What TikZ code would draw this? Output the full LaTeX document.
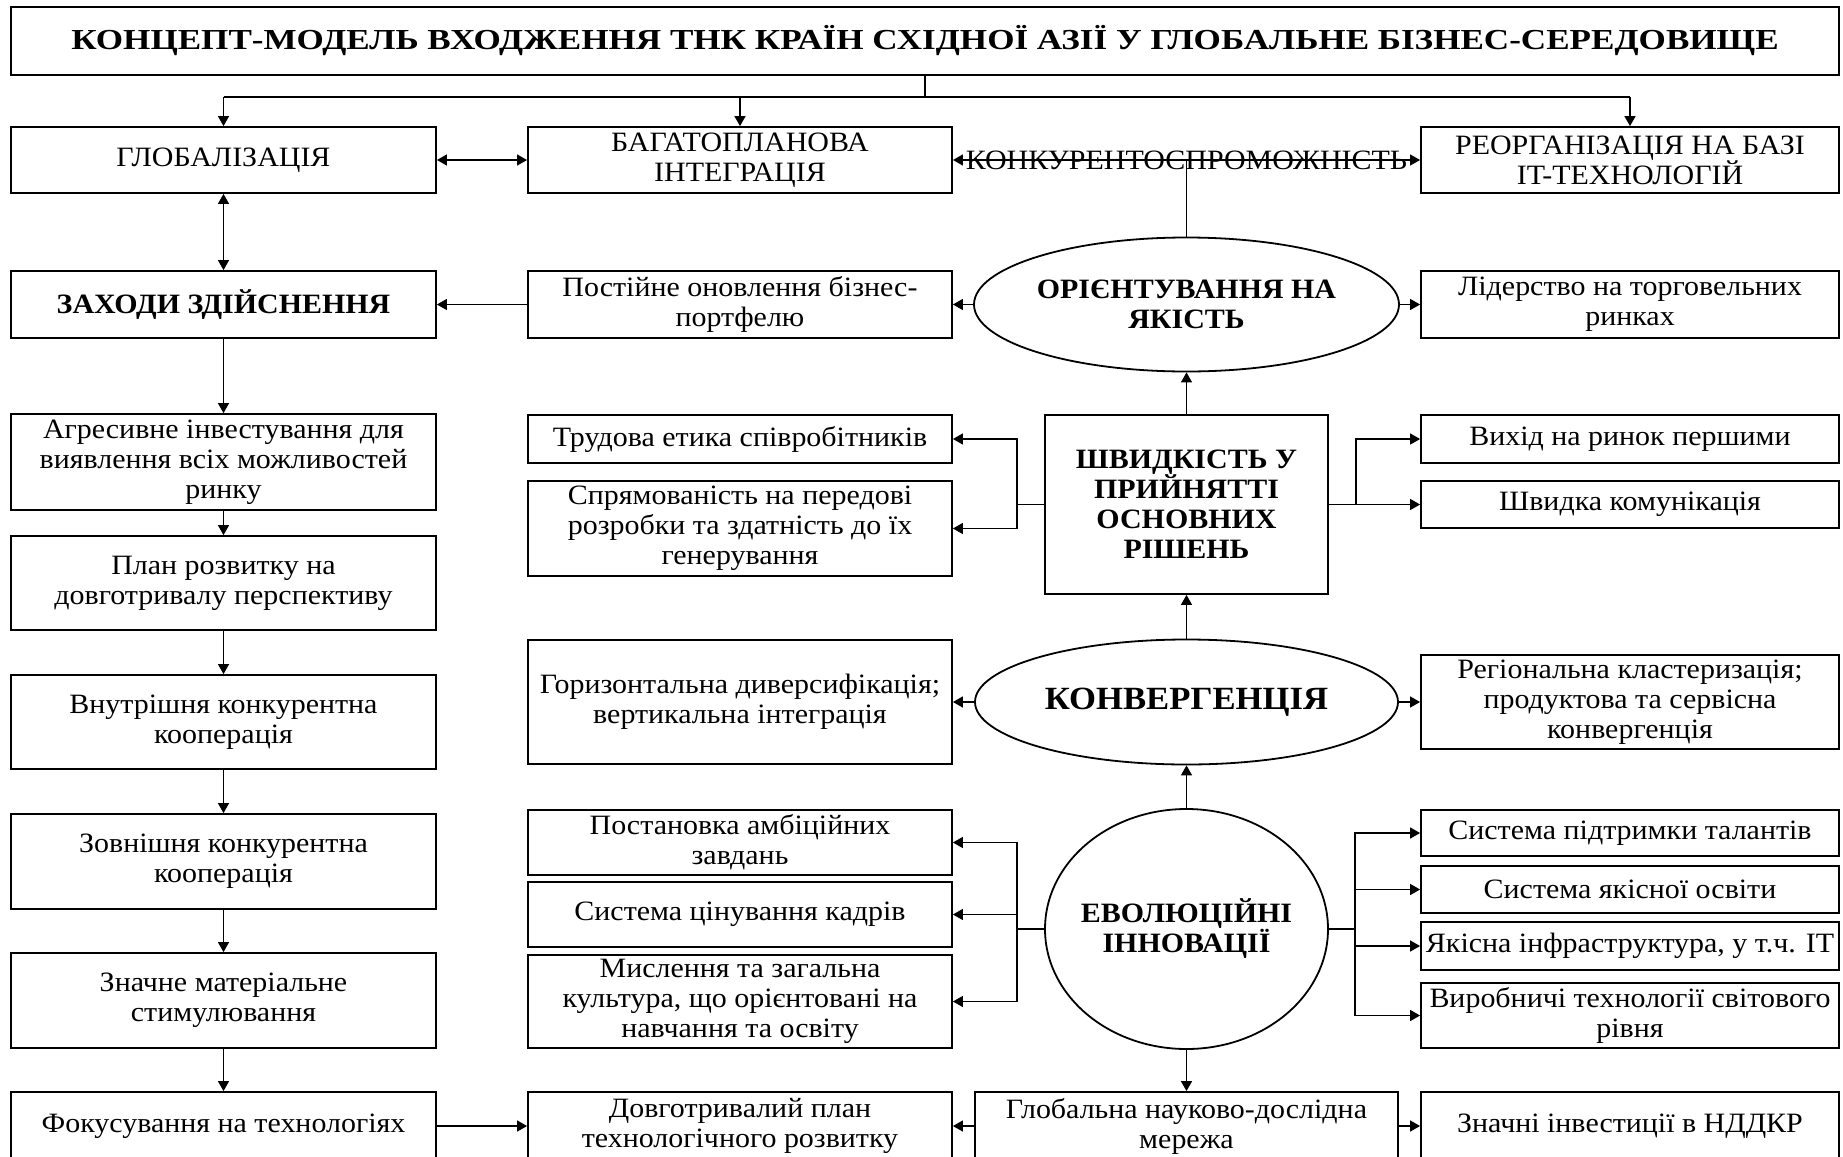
\documentclass[tikz,border=0pt]{standalone}
\usepackage{fontspec}
\setmainfont{Liberation Serif}[FakeStretch=1.07]
\newfontfamily\shyrokyi{Liberation Serif}[FakeStretch=1.21]
\usetikzlibrary{arrows.meta, shapes.geometric}
\tikzset{
>={Triangle[length=5pt,width=5.5pt]},
  punkt/.style={
    rectangle,
    draw=black, line width=0.9pt,
    inner sep=1pt,
    align=center,
    font=\fontsize{14}{15}\selectfont},
  kolA/.style={punkt, minimum width=212.5pt},
  kolB/.style={punkt, minimum width=212pt},
  kolC/.style={punkt, minimum width=209pt},
  oval/.style={
    ellipse,
    draw=black, line width=0.9pt,
    inner sep=0pt,
    align=center,
    font=\bfseries\fontsize{14}{15}\selectfont},
  zhyrnyi/.style={font=\bfseries\fontsize{14}{15}\selectfont},
  link/.style={draw, line width=0.65pt},
}

\begin{document}
\begin{tikzpicture}[x=0.5pt, y=-0.5pt]
  \useasboundingbox (0,0) rectangle (1843,1157);
  \clip (0,0) rectangle (1843,1157);
     \node[punkt, minimum width=914pt, minimum height=34pt, font=\shyrokyi\bfseries\fontsize{14.5}{15}\selectfont] (Kontsept) at (925,41)
       {КОНЦЕПТ-МОДЕЛЬ ВХОДЖЕННЯ ТНК КРАЇН СХІДНОЇ АЗІЇ У ГЛОБАЛЬНЕ БІЗНЕС-СЕРЕДОВИЩЕ};
     % left column
     \node[kolA, minimum height=33pt] (Globalizatsiya) at (223.5,160) {ГЛОБАЛІЗАЦІЯ};
     \node[kolA, zhyrnyi, minimum height=33.5pt] (Zakhody) at (223.5,304.5) {ЗАХОДИ ЗДІЙСНЕННЯ};
     \node[kolA, minimum height=48pt] (Investuvannya) at (223.5,462) {Агресивне інвестування для\\виявлення всіх можливостей\\ринку};
     \node[kolA, minimum height=47pt] (PlanRozvytku) at (223.5,583) {План розвитку на\\довготривалу перспективу};
     \node[kolA, minimum height=47pt] (VnutrKooperatsiya) at (223.5,722) {Внутрішня конкурентна\\кооперація};
     \node[kolA, minimum height=47.5pt] (ZovnKooperatsiya) at (223.5,861.5) {Зовнішня конкурентна\\кооперація};
     \node[kolA, minimum height=47.5pt] (Stymulyuvannya) at (223.5,1000.5) {Значне матеріальне\\стимулювання};
     \node[kolA, minimum height=34pt] (Fokus) at (223.5,1126) {Фокусування на технологіях};
     % middle column
     \node[kolB, minimum height=33pt] (Intehratsiya) at (740,160) {БАГАТОПЛАНОВА\\ІНТЕГРАЦІЯ};
     \node[kolB, minimum height=33.5pt] (Portfel) at (740,304.5) {Постійне оновлення бізнес-\\портфелю};
     \node[kolB, minimum height=24pt] (Etyka) at (740,439) {Трудова етика співробітників};
     \node[kolB, minimum height=47.5pt] (Rozrobky) at (740,528.5) {Спрямованість на передові\\розробки та здатність до їх\\генерування};
     \node[kolB, minimum height=62pt] (Dyversyfikatsiya) at (740,702) {Горизонтальна диверсифікація;\\вертикальна інтеграція};
     \node[kolB, minimum height=32.5pt] (Zavdannya) at (740,842.5) {Постановка амбіційних\\завдань};
     \node[kolB, minimum height=32.5pt] (Kadry) at (740,914.5) {Система цінування кадрів};
     \node[kolB, minimum height=46.5pt] (Kultura) at (740,1001.5) {Мислення та загальна\\культура, що орієнтовані на\\навчання та освіту};
     \node[kolB, minimum height=34pt] (DovhPlan) at (740,1126) {Довготривалий план\\технологічного розвитку};
     % centre
     \node[oval, minimum width=212.5pt, minimum height=67pt] (Yakist) at (1186.5,304.5) {ОРІЄНТУВАННЯ НА\\ЯКІСТЬ};
     \node[punkt, zhyrnyi, minimum width=141.5pt, minimum height=89.5pt] (Shvydkist) at (1186.5,504.5) {ШВИДКІСТЬ У\\ПРИЙНЯТТІ\\ОСНОВНИХ\\РІШЕНЬ};
     \node[oval, font=\bfseries\fontsize{16.2}{17}\selectfont, minimum width=211.5pt, minimum height=62.5pt] (Konverhentsiya) at (1186.5,702) {КОНВЕРГЕНЦІЯ};
     \node[oval, inner xsep=-3pt, minimum width=141.5pt, minimum height=120pt] (Innovatsiyi) at (1186.5,929) {ЕВОЛЮЦІЙНІ\\ІННОВАЦІЇ};
     \node[punkt, minimum width=211.5pt, minimum height=34pt] (Merezha) at (1186.5,1126) {Глобальна науково-дослідна\\мережа};
     % right column
     \node[kolC, minimum height=33pt] (Reorhanizatsiya) at (1630,160) {РЕОРГАНІЗАЦІЯ НА БАЗІ\\IT-ТЕХНОЛОГІЙ};
     \node[kolC, minimum height=33.5pt] (Liderstvo) at (1630,304.5) {Лідерство на торговельних\\ринках};
     \node[kolC, minimum height=24pt] (Vykhid) at (1630,439) {Вихід на ринок першими};
     \node[kolC, minimum height=23.5pt] (Komunikatsiya) at (1630,504.5) {Швидка комунікація};
     \node[kolC, minimum height=47pt] (Klasteryzatsiya) at (1630,702) {Регіональна кластеризація;\\продуктова та сервісна\\конвергенція};
     \node[kolC, minimum height=23pt] (Talanty) at (1630,833) {Система підтримки талантів};
     \node[kolC, minimum height=23.5pt] (Osvita) at (1630,889.5) {Система якісної освіти};
     \node[kolC, minimum height=24pt] (Infrastruktura) at (1630,946) {Якісна інфраструктура, у т.ч. IT};
     \node[kolC, minimum height=32.5pt] (Tekhnolohiyi) at (1630,1015.5) {Виробничі технології світового\\рівня};
     \node[kolC, minimum height=34pt] (NDDKR) at (1630,1126) {Значні інвестиції в НДДКР};

     % connectors
     \draw[link] (Kontsept.south) -- ++(0,21) coordinate (Rozpodil);
     \draw[link] (Rozpodil -| Globalizatsiya.north) -- (Rozpodil -| Reorhanizatsiya.north);
     \foreach \n in {Globalizatsiya, Intehratsiya, Reorhanizatsiya}
       \draw[link, ->] (Rozpodil -| \n.north) -- (\n.north);
     \draw[link, <->] (Globalizatsiya) -- (Intehratsiya);
     \draw[link, <->] (Intehratsiya.east) -- node[font=\fontsize{14}{15}\selectfont] (Konkurentospromozhnist) {КОНКУРЕНТОСПРОМОЖНІСТЬ} (Reorhanizatsiya.west);
     \draw[link] (Yakist.north) -- (Yakist.north |- Intehratsiya.east);
     \draw[link, <->] (Globalizatsiya) -- (Zakhody);
     \foreach \a/\b in {Zakhody/Investuvannya, Investuvannya/PlanRozvytku, PlanRozvytku/VnutrKooperatsiya,
                        VnutrKooperatsiya/ZovnKooperatsiya, ZovnKooperatsiya/Stymulyuvannya, Stymulyuvannya/Fokus}
       \draw[link, ->] (\a) -- (\b);
     \draw[link, ->] (Portfel) -- (Zakhody);
     \draw[link, ->] (Yakist) -- (Portfel);
     \draw[link, ->] (Yakist) -- (Liderstvo);
     \draw[link, ->] (Shvydkist) -- (Yakist);
     \foreach \n in {Etyka, Rozrobky}
       \draw[link, ->] (Shvydkist.west) -- ++(-27,0) |- (\n);
     \foreach \n in {Vykhid, Komunikatsiya}
       \draw[link, ->] (Shvydkist.east) -- ++(27,0) |- (\n);
     \draw[link, ->] (Konverhentsiya) -- (Shvydkist);
     \draw[link, ->] (Konverhentsiya) -- (Dyversyfikatsiya);
     \draw[link, ->] (Konverhentsiya) -- (Klasteryzatsiya);
     \draw[link, ->] (Innovatsiyi) -- (Konverhentsiya);
     \foreach \n in {Zavdannya, Kadry, Kultura}
       \draw[link, ->] (Innovatsiyi.west) -- ++(-27,0) |- (\n);
     \foreach \n in {Talanty, Osvita, Infrastruktura, Tekhnolohiyi}
       \draw[link, ->] (Innovatsiyi.east) -- ++(26,0) |- (\n);
     \draw[link, ->] (Innovatsiyi) -- (Merezha);
     \draw[link, ->] (Merezha) -- (DovhPlan);
     \draw[link, ->] (Merezha) -- (NDDKR);
     \draw[link, ->] (Fokus) -- (DovhPlan);
\end{tikzpicture}
\end{document}
